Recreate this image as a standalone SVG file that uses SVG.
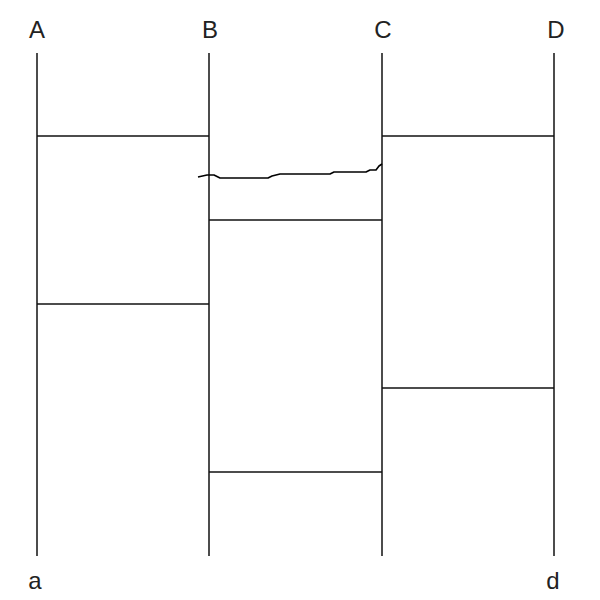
<svg xmlns="http://www.w3.org/2000/svg" width="600" height="600" viewBox="0 0 600 600">
<style>
.v{stroke:#111;stroke-width:1.5;fill:none}
.r{stroke:#111;stroke-width:1.5;fill:none}
.h{stroke:#000;stroke-width:1.6;fill:none;stroke-linejoin:round}
.t{font-family:"Liberation Sans",Arial,sans-serif;font-size:24px;fill:#222;text-anchor:middle}
</style>
<rect width="600" height="600" fill="#fff"/>
<g id="A"><line class="v" x1="37" y1="53" x2="37" y2="556"/><text class="t" x="37" y="38">A</text><text class="t" x="35" y="589">a</text></g>
<g id="B"><line class="v" x1="209" y1="53" x2="209" y2="556"/><text class="t" x="210" y="38">B</text></g>
<g id="C"><line class="v" x1="382" y1="53" x2="382" y2="556"/><text class="t" x="383" y="38">C</text></g>
<g id="D"><line class="v" x1="554" y1="53" x2="554" y2="556"/><text class="t" x="556" y="38">D</text><text class="t" x="553" y="589">d</text></g>
<g id="connectors">
<line class="r" x1="37" y1="136" x2="209" y2="136"/>
<line class="r" x1="37" y1="304" x2="209" y2="304"/>
<line class="r" x1="209" y1="220" x2="382" y2="220"/>
<line class="r" x1="209" y1="472" x2="382" y2="472"/>
<line class="r" x1="382" y1="136" x2="554" y2="136"/>
<line class="r" x1="382" y1="388" x2="554" y2="388"/>
<polyline class="h" points="198,177 207,175 214,175 220,178 268,178 272,176 280,174 330,174 334,172 366,172 370,170 376,170 379,166 382,164"/>
</g>
</svg>
